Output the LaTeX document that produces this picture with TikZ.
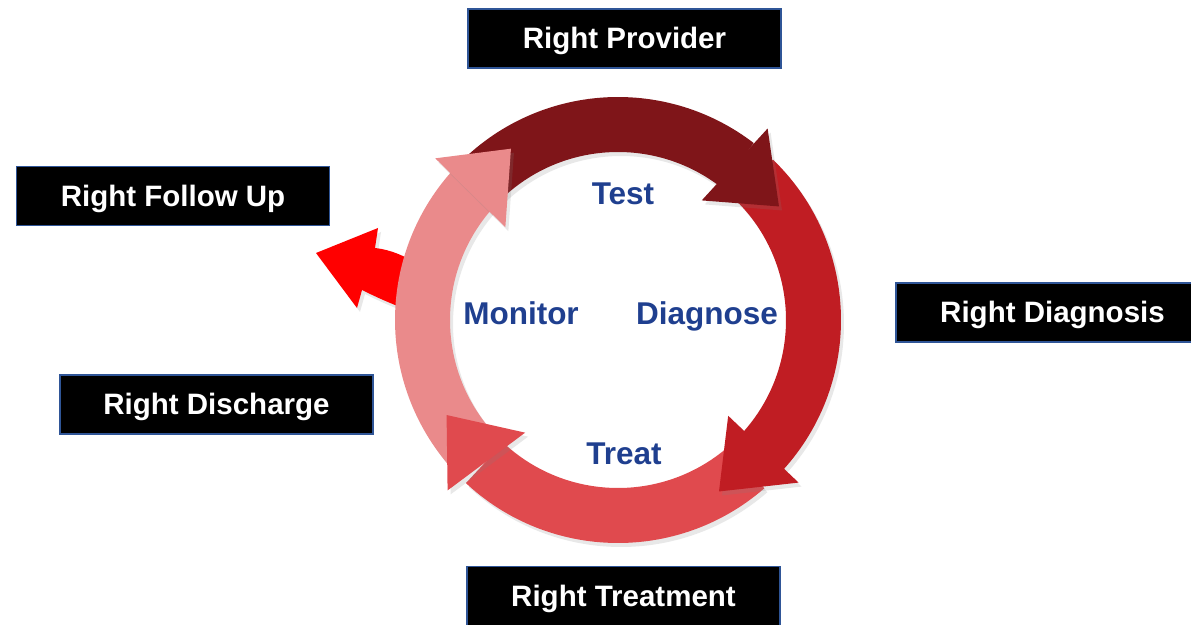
\documentclass[tikz,border=0pt]{standalone}
\usepackage{fontspec}
\setmainfont{Liberation Sans}
\usetikzlibrary{shadows}
\definecolor{cdark}{HTML}{7F1519}
\definecolor{cred}{HTML}{C01D23}
\definecolor{cmed}{HTML}{E04A4E}
\definecolor{cpink}{HTML}{EA8A8B}
\definecolor{cbright}{HTML}{FF0000}
\definecolor{txtblue}{HTML}{1F3F8F}
\definecolor{boxblue}{HTML}{2F5597}
\tikzset{
  labelbox/.style={fill=black, draw=boxblue, line width=1.2pt, minimum width=313pt, minimum height=59pt,
    text=white, inner sep=0pt, text height=21pt, text depth=0pt, font=\fontsize{29.5}{34}\selectfont\bfseries},
  steplabel/.style={text=txtblue, inner sep=0pt, text height=22.5pt, text depth=0pt, font=\fontsize{31.5}{36}\selectfont\bfseries},
  shade/.style={drop shadow={opacity=0.18, shadow xshift=3pt, shadow yshift=-4pt}}
}
\begin{document}
\begin{tikzpicture}[x=1pt,y=1pt]
\useasboundingbox (0,0) rectangle (1191,624);

% bright red arrow leaving the cycle
\fill[cbright, shade] (316,371) -- (378,396) -- (375,376)
  .. controls (392,374) and (404,368) .. (418,360) -- (414,312)
  .. controls (396,318) and (378,326) .. (362,334) -- (357,316) -- cycle;

\begin{scope}[shift={(618,304)}]
  % ring bodies
  \fill[cdark, shade] (133:223) arc[start angle=133, end angle=52.5, radius=223]
     -- (52.5:168) arc[start angle=52.5, end angle=133, radius=168] -- cycle;
  \fill[cred, shade] (46:223) arc[start angle=46, end angle=-42.5, radius=223]
     -- (-42.5:168) arc[start angle=-42.5, end angle=46, radius=168] -- cycle;
  \fill[cmed, shade] (-49:223) arc[start angle=-49, end angle=-133, radius=223]
     -- (-133:168) arc[start angle=-133, end angle=-49, radius=168] -- cycle;
  \fill[cpink, shade] (220:223) arc[start angle=220, end angle=138.5, radius=223]
     -- (138.5:168) arc[start angle=138.5, end angle=220, radius=168] -- cycle;
  % arrow heads
  \fill[cdark, shade] (52:243) -- (35.2:197) -- (55:146) -- cycle;
  \fill[cred, shade] (-42:243) -- (-59.5:199) -- (-41:146) -- cycle;
  \fill[cmed, shade] (-135:241) -- (-151:196) -- (-129.5:146) -- cycle;
  \fill[cpink, shade] (138.5:244) -- (122:202) -- (140.5:146) -- cycle;
\end{scope}

% step labels
\node[steplabel] (test) at (623,430.5) {Test};
\node[steplabel] (diagnose) at (707,311) {Diagnose};
\node[steplabel] (treat) at (624,170.5) {Treat};
\node[steplabel] (monitor) at (521,311) {Monitor};

% outer boxes
\node[labelbox] (provider) at (624.5,585.5) {Right Provider};
\node[labelbox] (followup) at (173,428) {Right Follow Up};
\node[labelbox] (diagnosis) at (1052.5,311.5) {Right Diagnosis};
\node[labelbox] (discharge) at (216.5,219.5) {Right Discharge};
\node[labelbox] (treatment) at (623.5,28) {Right Treatment};
\end{tikzpicture}
\end{document}
